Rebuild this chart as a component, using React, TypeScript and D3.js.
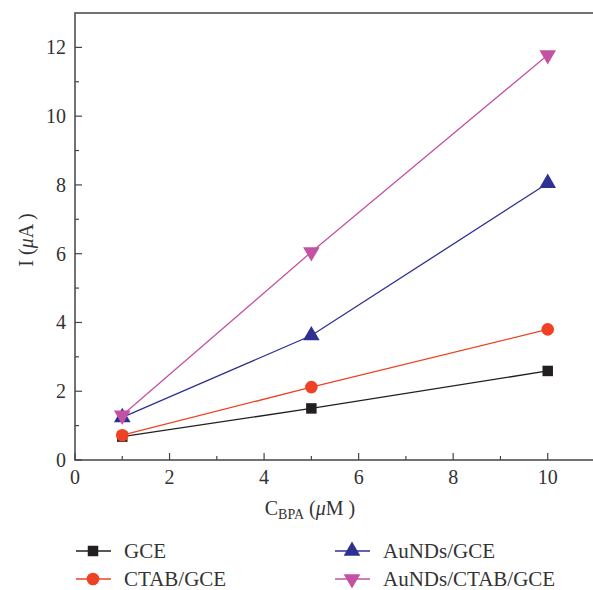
import React from "react";
import * as d3 from "d3";

// concentrations (uM)
const concentrations = [1, 5, 10];
// peak currents (uA) per electrode
const gce = [0.68, 1.5, 2.59];
const ctab = [0.72, 2.12, 3.8];
const aunds = [1.24, 3.62, 8.05];
const aundsCtab = [1.3, 6.05, 11.78];

const seriesNames = ["GCE", "CTAB/GCE", "AuNDs/GCE", "AuNDs/CTAB/GCE"];
const xTicks = [0, 2, 4, 6, 8, 10];
const yTicks = [0, 2, 4, 6, 8, 10, 12];

const App = () => {
  const svgRef = React.useRef<SVGSVGElement>(null);
  const W = 593;
  const H = 590;
  const m = { left: 75, top: 13, right: 595, bottom: 460 };

  React.useEffect(() => {
    const svg = d3.select(svgRef.current);
    svg.selectAll("*").remove();
    const font = "'Liberation Serif', 'Times New Roman', serif";

    const x = d3.scaleLinear().domain([0, 11]).range([m.left, m.right]);
    const y = d3.scaleLinear().domain([0, 13]).range([m.bottom, m.top]);

    const series = [
      { name: seriesNames[0], vals: gce, color: "#231f20", shape: d3.symbolSquare, size: 110, rot: 0 },
      { name: seriesNames[1], vals: ctab, color: "#ef4123", shape: d3.symbolCircle, size: 125, rot: 0 },
      { name: seriesNames[2], vals: aunds, color: "#2e3192", shape: d3.symbolTriangle, size: 120, rot: 0 },
      { name: seriesNames[3], vals: aundsCtab, color: "#c353a2", shape: d3.symbolTriangle, size: 120, rot: 180 },
    ];

    // frame
    svg
      .append("rect")
      .attr("x", m.left)
      .attr("y", m.top)
      .attr("width", m.right - m.left)
      .attr("height", m.bottom - m.top)
      .attr("fill", "none")
      .attr("stroke", "#444")
      .attr("stroke-width", 1.5);

    // x ticks (inward) with minor ticks
    const xAxis = svg.append("g");
    d3.range(0, 11, 1).forEach((v) => {
      const major = v % 2 === 0;
      xAxis
        .append("line")
        .attr("x1", x(v))
        .attr("x2", x(v))
        .attr("y1", m.bottom)
        .attr("y2", m.bottom - (major ? 7 : 4))
        .attr("stroke", "#444")
        .attr("stroke-width", 1.2);
    });
    xAxis
      .selectAll("text")
      .data(xTicks)
      .enter()
      .append("text")
      .attr("x", (d) => x(d))
      .attr("y", m.bottom + 24)
      .attr("text-anchor", "middle")
      .style("font-family", font)
      .style("font-size", "20px")
      .attr("fill", "#333")
      .text((d) => d);

    // y ticks
    const yAxis = svg.append("g");
    d3.range(0, 13, 1).forEach((v) => {
      const major = v % 2 === 0;
      yAxis
        .append("line")
        .attr("y1", y(v))
        .attr("y2", y(v))
        .attr("x1", m.left)
        .attr("x2", m.left + (major ? 7 : 4))
        .attr("stroke", "#444")
        .attr("stroke-width", 1.2);
    });
    yAxis
      .selectAll("text")
      .data(yTicks)
      .enter()
      .append("text")
      .attr("x", m.left - 9)
      .attr("y", (d) => y(d) + 7)
      .attr("text-anchor", "end")
      .style("font-family", font)
      .style("font-size", "20px")
      .attr("fill", "#333")
      .text((d) => d);

    // axis titles
    const xt = svg
      .append("text")
      .attr("x", 310)
      .attr("y", 515)
      .attr("text-anchor", "middle")
      .style("font-family", font)
      .style("font-size", "20px")
      .attr("fill", "#333");
    xt.append("tspan").text("C");
    xt.append("tspan").attr("dy", 4).style("font-size", "14px").text("BPA");
    xt.append("tspan").attr("dy", -4).text(" (");
    xt.append("tspan").style("font-style", "italic").text("μ");
    xt.append("tspan").text("M )");

    const yt = svg
      .append("text")
      .attr("transform", `translate(33, 240) rotate(-90)`)
      .attr("text-anchor", "middle")
      .style("font-family", font)
      .style("font-size", "20px")
      .attr("fill", "#333");
    yt.append("tspan").text("I (");
    yt.append("tspan").style("font-style", "italic").text("μ");
    yt.append("tspan").text("A )");

    // lines and markers
    const line = d3
      .line<number>()
      .x((_, i) => x(concentrations[i]))
      .y((d) => y(d));

    series.forEach((s) => {
      svg
        .append("path")
        .attr("d", line(s.vals))
        .attr("fill", "none")
        .attr("stroke", s.color)
        .attr("stroke-width", 1.3);
      svg
        .selectAll(null)
        .data(s.vals)
        .enter()
        .append("path")
        .attr("d", d3.symbol().type(s.shape).size(s.size)())
        .attr("transform", (d, i) => `translate(${x(concentrations[i])},${y(d)}) rotate(${s.rot})`)
        .attr("fill", s.color);
    });

    // legend
    const legendPos = [
      { lx: 76, ly: 551 },
      { lx: 76, ly: 579 },
      { lx: 335, ly: 551 },
      { lx: 335, ly: 579 },
    ];
    series.forEach((s, i) => {
      const p = legendPos[i];
      const g = svg.append("g");
      g.append("line")
        .attr("x1", p.lx)
        .attr("x2", p.lx + 35)
        .attr("y1", p.ly)
        .attr("y2", p.ly)
        .attr("stroke", s.color)
        .attr("stroke-width", 1.3);
      g.append("path")
        .attr("d", d3.symbol().type(s.shape).size(s.size)())
        .attr("transform", `translate(${p.lx + 17},${p.ly}) rotate(${s.rot})`)
        .attr("fill", s.color);
      g.append("text")
        .attr("x", p.lx + 48)
        .attr("y", p.ly + 7)
        .style("font-family", font)
        .style("font-size", "21px")
        .attr("fill", "#333")
        .text(s.name);
    });
  }, []);

  return (
    <div style={{ position: "absolute", left: 0, top: 0, width: W, height: H, overflow: "hidden", background: "#fff" }}>
      <svg ref={svgRef} width={W} height={H} />
    </div>
  );
};

export default App;
